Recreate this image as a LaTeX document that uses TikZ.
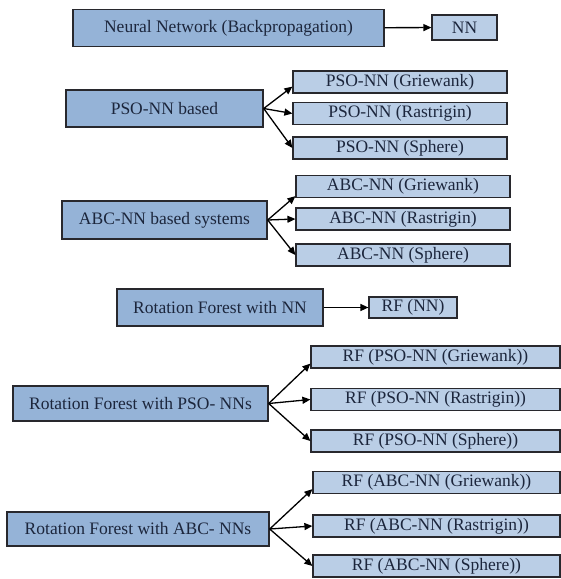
\documentclass[tikz,border=0pt]{standalone}
\usepackage{fontspec}
\setmainfont{Liberation Serif}
\usetikzlibrary{arrows.meta, positioning}

\definecolor{bigblue}{RGB}{149,179,215}
\definecolor{smallblue}{RGB}{186,206,230}
\definecolor{boxline}{RGB}{40,40,45}
\definecolor{boxtext}{RGB}{28,38,60}

\begin{document}
\begin{tikzpicture}[
  x=1pt, y=-1pt,
  font=\fontsize{17.5}{20}\selectfont,
  method/.style={rectangle, draw=boxline, line width=1.4pt, fill=bigblue, text=boxtext, inner sep=0pt, minimum height=37pt, align=center},
  model/.style={rectangle, draw=boxline, line width=1.2pt, fill=smallblue, text=boxtext, inner sep=0pt, minimum height=22pt, align=center},
  arrow/.style={line width=1.3pt, -{Triangle[length=8pt, width=7pt]}}
]
\useasboundingbox (0,0) rectangle (561,579);

% Nodes
\node[method, minimum width=311pt] (backprop) at (228.5,28) {Neural Network (Backpropagation)};
\node[model, minimum width=65pt, minimum height=25pt] (nn) at (464.5,27.5) {NN};

\node[method, minimum width=197pt] (pso) at (164.5,108.5) {PSO-NN based};
\node[model, minimum width=214pt] (psog) at (400,82) {PSO-NN (Griewank)};
\node[model, minimum width=214pt] (psor) at (400,113.5) {PSO-NN (Rastrigin)};
\node[model, minimum width=214pt] (psos) at (400,148) {PSO-NN (Sphere)};

\node[method, minimum width=205pt, minimum height=38pt] (abc) at (164.5,220) {ABC-NN based systems};
\node[model, minimum width=214pt] (abcg) at (403,186.5) {ABC-NN (Griewank)};
\node[model, minimum width=214pt] (abcr) at (403,219) {ABC-NN (Rastrigin)};
\node[model, minimum width=214pt] (abcs) at (403,255) {ABC-NN (Sphere)};

\node[method, minimum width=206pt] (rotnn) at (220,307.5) {Rotation Forest with NN};
\node[model, minimum width=88pt, minimum height=21pt] (rfnn) at (413,307.5) {RF (NN)};

\node[method, minimum width=255pt, minimum height=35pt] (rotpso) at (140.5,403.5) {Rotation Forest with PSO- NNs};
\node[model, minimum width=249pt] (rfpsog) at (435.5,357) {RF (PSO-NN (Griewank))};
\node[model, minimum width=249pt] (rfpsor) at (435.5,399.5) {RF (PSO-NN (Rastrigin))};
\node[model, minimum width=249pt] (rfpsos) at (435.5,441) {RF (PSO-NN (Sphere))};

\node[method, minimum width=262pt, minimum height=34pt] (rotabc) at (138,529) {Rotation Forest with ABC- NNs};
\node[model, minimum width=247pt] (rfabcg) at (436.5,482.5) {RF (ABC-NN (Griewank))};
\node[model, minimum width=247pt] (rfabcr) at (436.5,526) {RF (ABC-NN (Rastrigin))};
\node[model, minimum width=247pt] (rfabcs) at (436.5,566) {RF (ABC-NN (Sphere))};

% Arrows
\draw[arrow] (backprop) -- (nn);

\draw[arrow] (pso.east) -- ([yshift=7pt]psog.south west);
\draw[arrow] (pso.east) -- (psor.west);
\draw[arrow] (pso.east) -- (psos.west);

\draw[arrow] (abc.east) -- ([yshift=2pt]abcg.south west);
\draw[arrow] (abc.east) -- (abcr.west);
\draw[arrow] (abc.east) -- (abcs.west);

\draw[arrow] (rotnn) -- (rfnn);

\draw[arrow] (rotpso.east) -- ([yshift=5pt]rfpsog.south west);
\draw[arrow] (rotpso.east) -- (rfpsor.west);
\draw[arrow] (rotpso.east) -- (rfpsos.west);

\draw[arrow] (rotabc.east) -- ([yshift=5pt]rfabcg.south west);
\draw[arrow] (rotabc.east) -- (rfabcr.west);
\draw[arrow] (rotabc.east) -- (rfabcs.west);

\end{tikzpicture}
\end{document}
